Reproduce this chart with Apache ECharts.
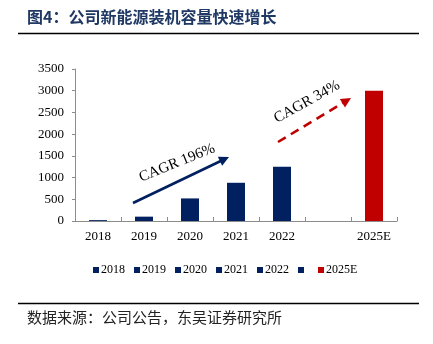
<!DOCTYPE html>
<html><head><meta charset="utf-8">
<script src="https://cdn.jsdelivr.net/npm/echarts@6/dist/echarts.min.js"></script>
<style>html,body{margin:0;padding:0;background:#fff}#c{width:433px;height:344px}</style>
</head><body><div id="c"></div>
<script>
// ---- data ----
const categories = ['2018', '2019', '2020', '2021', '2022', '', '2025E'];
const seriesNames = ['2018', '2019', '2020', '2021', '2022', ' ', '2025E'];
const values = [20, 100, 520, 880, 1250, null, 3000];
const yMin = 0, yMax = 3500, yStep = 500;
const titleText = '图4：公司新能源装机容量快速增长';
const sourceText = '数据来源：公司公告，东吴证券研究所';
const cagrLabels = ['CAGR 196%', 'CAGR 34%'];

// ---- styles ----
const NAVY = '#002060', RED = '#C00000';
const serif = '"Liberation Serif","Times New Roman",serif';
const cjk = '"Noto Sans CJK SC",sans-serif';

const chart = echarts.init(document.getElementById('c'));

const series = seriesNames.map((name, i) => ({
  name: name,
  type: 'bar',
  stack: 'all',
  barWidth: 18,
  itemStyle: { color: name === '2025E' ? RED : NAVY },
  data: categories.map((c, j) => (j === i && values[i] != null) ? values[i] : '-')
}));

function arrow(x1, y1, x2, y2, color, dashed) {
  const dx = x2 - x1, dy = y2 - y1, len = Math.hypot(dx, dy);
  const ux = dx / len, uy = dy / len, px = -uy, py = ux;
  const hl = 10, hw = 5;
  const bx = x2 - ux * hl, by = y2 - uy * hl;
  return [
    { type: 'line', shape: { x1: x1, y1: y1, x2: bx + ux * 2, y2: by + uy * 2 },
      style: { stroke: color, lineWidth: 2.6, lineDash: dashed ? [9, 6] : null } },
    { type: 'polygon', shape: { points: [[x2, y2], [bx + px * hw, by + py * hw], [bx - px * hw, by - py * hw]] },
      style: { fill: color } }
  ];
}

chart.setOption({
  animation: false,
  backgroundColor: '#fff',
  grid: { left: 75, right: 36, top: 69, bottom: 123 },
  legend: {
    data: seriesNames,
    top: 259, left: 88,
    icon: 'rect', itemWidth: 6, itemHeight: 6, itemGap: 9,
    textStyle: { fontFamily: serif, fontSize: 12, color: '#000', padding: [0, 0, 0, -3] }
  },
  xAxis: {
    type: 'category', data: categories,
    axisLine: { lineStyle: { color: '#8c8c8c', width: 1 } },
    axisTick: { show: true, inside: true, length: 4, interval: 0, lineStyle: { color: '#8c8c8c' } },
    axisLabel: { fontFamily: serif, fontSize: 13, color: '#000', margin: 9, interval: 0 }
  },
  yAxis: {
    type: 'value', min: yMin, max: yMax, interval: yStep,
    axisLine: { show: true, lineStyle: { color: '#8c8c8c', width: 1 } },
    axisTick: { show: true, length: 3, lineStyle: { color: '#8c8c8c' } },
    splitLine: { show: false },
    axisLabel: { fontFamily: serif, fontSize: 13, color: '#000', margin: 11,
      formatter: v => String(v) }
  },
  series: series,
  graphic: [
    { type: 'text', left: 27, top: 9,
      style: { text: titleText, font: 'bold 16px ' + cjk, fill: '#1F3864' } },
    { type: 'line', shape: { x1: 18, y1: 33.5, x2: 419, y2: 33.5 }, style: { stroke: '#000', lineWidth: 1.5 } },
    { type: 'line', shape: { x1: 18, y1: 303.5, x2: 419, y2: 303.5 }, style: { stroke: '#000', lineWidth: 1.5 } },
    { type: 'text', left: 27, top: 310,
      style: { text: sourceText, font: '15px ' + cjk, fill: '#222' } },
    ...arrow(133, 203, 229, 157, NAVY, false),
    ...arrow(278, 142, 351, 98, RED, true),
    { type: 'text', x: 177, y: 163, rotation: 22 * Math.PI / 180,
      style: { text: cagrLabels[0], font: '15px ' + serif, fill: '#000', align: 'center', verticalAlign: 'middle' } },
    { type: 'text', x: 307, y: 102, rotation: 29 * Math.PI / 180,
      style: { text: cagrLabels[1], font: '15px ' + serif, fill: '#000', align: 'center', verticalAlign: 'middle' } }
  ]
});
</script></body></html>
